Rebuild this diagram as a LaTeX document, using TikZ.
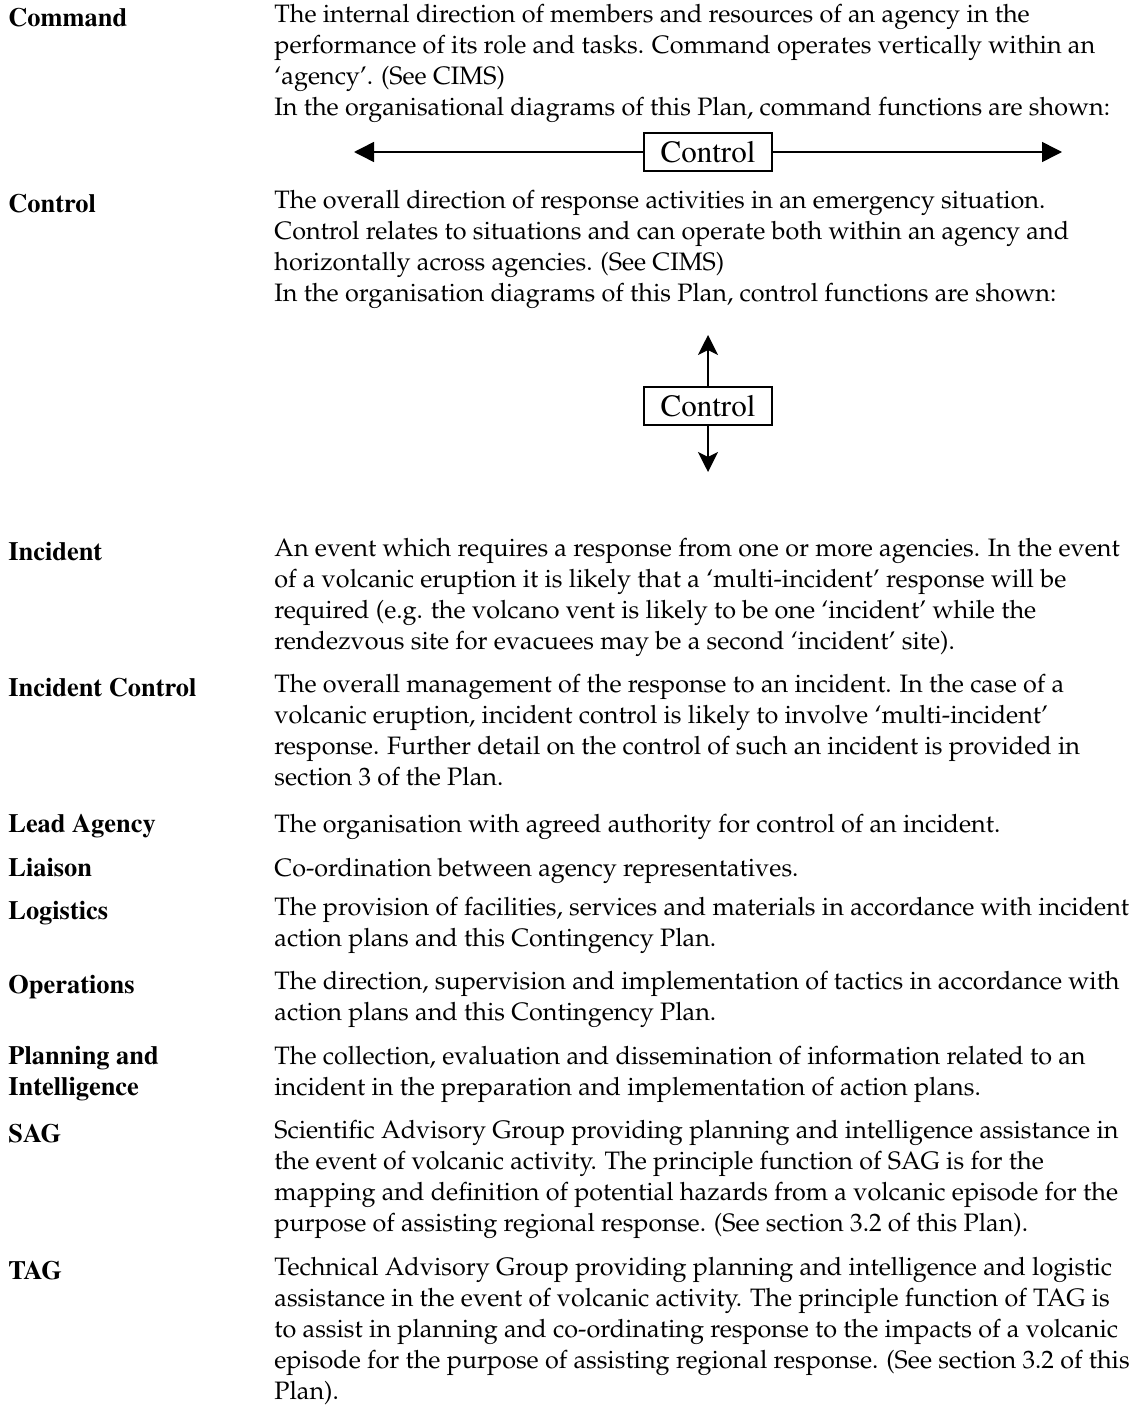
\documentclass[tikz,border=0pt]{standalone}
\usepackage[T1]{fontenc}
\usetikzlibrary{arrows.meta,positioning}

\begin{document}
\begin{tikzpicture}
[x=0.5pt,y=-0.5pt]
\tikzset{
	term/.style = {anchor=north west, yshift=10.85pt, inner sep=0, align=left, execute at begin node=\strut, font=\fontfamily{ptm}\bfseries\fontsize{13.2}{15.5}\selectfont},
	defn/.style = {anchor=north west, yshift=10.85pt, inner sep=0, align=left, execute at begin node=\strut, font=\fontfamily{ppl}\fontsize{12.6}{15.5}\selectfont},
	ctrlbox/.style = {draw, line width=1pt, minimum width=64pt, minimum height=19pt, inner sep=0, font=\fontfamily{ptm}\fontsize{15.5}{18}\selectfont},
	cmdarrow/.style = {line width=0.75pt, -{Triangle[length=10pt,width=10pt]}},
	ctlarrow/.style = {line width=0.75pt, -{Stealth[length=10pt,width=10pt,inset=2.5pt]}}
}
\useasboundingbox (0,0) rectangle (1140,1413);

% Command
\node(t1) [term] at (8,26) {Command};
\node(d1) [defn] at (274,26) {The internal direction of members and resources of an agency in the\\
	performance of its role and tasks. Command operates vertically within an\\
	`agency'. (See CIMS)\\
	In the organisational diagrams of this Plan, command functions are shown:};
\node(cmd) [ctrlbox] at (708,152) {Control};
\coordinate(cmdL) at (354,152);
\coordinate(cmdR) at (1062,152);
\draw [cmdarrow] (cmd.west) -- (cmdL);
\draw [cmdarrow] (cmd.east) -- (cmdR);

% Control
\node(t2) [term] at (8,212) {Control};
\node(d2) [defn] at (274,212) {The overall direction of response activities in an emergency situation.\\
	Control relates to situations and can operate both within an agency and\\
	horizontally across agencies. (See CIMS)\\
	In the organisation diagrams of this Plan, control functions are shown:};
\node(ctl) [ctrlbox] at (708,406) {Control};
\coordinate(ctlU) at (708,335);
\coordinate(ctlD) at (708,472);
\draw [ctlarrow] (ctl.north) -- (ctlU);
\draw [ctlarrow] (ctl.south) -- (ctlD);

% Incident
\node(t3) [term] at (8,560) {Incident};
\node(d3) [defn] at (274,560) {An event which requires a response from one or more agencies. In the event\\
	of a volcanic eruption it is likely that a `multi-incident' response will be\\
	required (e.g. the volcano vent is likely to be one `incident' while the\\
	rendezvous site for evacuees may be a second `incident' site).};

% Incident Control
\node(t4) [term] at (8,696) {Incident Control};
\node(d4) [defn] at (274,696) {The overall management of the response to an incident. In the case of a\\
	volcanic eruption, incident control is likely to involve `multi-incident'\\
	response. Further detail on the control of such an incident is provided in\\
	section 3 of the Plan.};

% Lead Agency
\node(t5) [term] at (8,832) {Lead Agency};
\node(d5) [defn] at (274,832) {The organisation with agreed authority for control of an incident.};

% Liaison
\node(t6) [term] at (8,876) {Liaison};
\node(d6) [defn] at (274,876) {Co-ordination between agency representatives.};

% Logistics
\node(t7) [term] at (8,919) {Logistics};
\node(d7) [defn] at (274,919) {The provision of facilities, services and materials in accordance with incident\\
	action plans and this Contingency Plan.};

% Operations
\node(t8) [term] at (8,993) {Operations};
\node(d8) [defn] at (274,993) {The direction, supervision and implementation of tactics in accordance with\\
	action plans and this Contingency Plan.};

% Planning and Intelligence
\node(t9) [term] at (8,1068) {Planning and\\Intelligence};
\node(d9) [defn] at (274,1068) {The collection, evaluation and dissemination of information related to an\\
	incident in the preparation and implementation of action plans.};

% SAG
\node(t10) [term] at (8,1142) {SAG};
\node(d10) [defn] at (274,1142) {Scientific Advisory Group providing planning and intelligence assistance in\\
	the event of volcanic activity. The principle function of SAG is for the\\
	mapping and definition of potential hazards from a volcanic episode for the\\
	purpose of assisting regional response. (See section 3.2 of this Plan).};

% TAG
\node(t11) [term] at (8,1279) {TAG};
\node(d11) [defn] at (274,1279) {Technical Advisory Group providing planning and intelligence and logistic\\
	assistance in the event of volcanic activity. The principle function of TAG is\\
	to assist in planning and co-ordinating response to the impacts of a volcanic\\
	episode for the purpose of assisting regional response. (See section 3.2 of this\\
	Plan).};

\end{tikzpicture}
\end{document}
